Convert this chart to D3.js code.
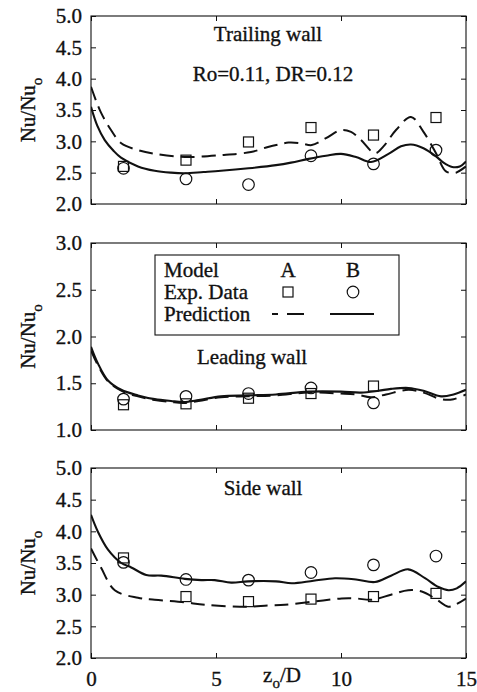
<!DOCTYPE html>
<html><head><meta charset="utf-8">
<script src="https://cdn.jsdelivr.net/npm/d3@7/dist/d3.min.js"></script>
<style>
html,body{margin:0;padding:0;background:#fff;}
svg text{font-family:"Liberation Serif","Times New Roman",Times,"DejaVu Serif",serif !important;fill:#111;stroke:#111;stroke-width:0.35px;}
</style></head>
<body><svg id="c" width="477" height="692"></svg>
<script>
// ---------- data ----------
const xTicks = [0, 5, 10, 15];
const expX6 = [1.3, 3.8, 6.3, 8.8, 11.3, 13.8];
const expX5 = [1.3, 3.8, 6.3, 8.8, 11.3];

// Trailing wall
const trailTicks = [2.0, 2.5, 3.0, 3.5, 4.0, 4.5, 5.0];
const trailExpA = [2.60, 2.70, 2.99, 3.22, 3.10, 3.38];
const trailExpB = [2.57, 2.40, 2.31, 2.77, 2.64, 2.86];
const trailPredAx = [0, 0.2, 0.41, 0.8, 1.21, 1.88, 2.55, 3.75, 5.2, 6.4, 7.08, 7.5, 7.9, 8.4, 8.83, 9.4, 10.0, 10.4, 10.8, 11.36, 11.7, 12.2, 12.8, 13.3, 13.8, 14.2, 14.6, 15];
const trailPredAy = [3.87, 3.65, 3.45, 3.18, 2.97, 2.86, 2.80, 2.75, 2.78, 2.83, 2.91, 2.95, 2.98, 2.97, 2.94, 3.05, 3.18, 3.15, 3.02, 2.81, 2.92, 3.18, 3.39, 3.15, 2.81, 2.52, 2.50, 2.60];
const trailPredBx = [0, 0.25, 0.55, 0.9, 1.2, 1.88, 2.55, 3.2, 3.75, 4.5, 5.2, 6.3, 7.4, 8.0, 8.7, 9.4, 10.0, 10.6, 11.2, 11.9, 12.4, 12.8, 13.3, 13.8, 14.1, 14.45, 14.75, 15];
const trailPredBy = [3.55, 3.25, 3.02, 2.85, 2.74, 2.60, 2.53, 2.50, 2.49, 2.51, 2.53, 2.57, 2.62, 2.66, 2.72, 2.77, 2.80, 2.75, 2.67, 2.80, 2.92, 2.95, 2.89, 2.76, 2.66, 2.59, 2.60, 2.68];

// Leading wall
const leadTicks = [1.0, 1.5, 2.0, 2.5, 3.0];
const leadExpA = [1.27, 1.28, 1.34, 1.39, 1.47];
const leadExpB = [1.33, 1.36, 1.39, 1.45, 1.29];
const leadPredAx = [0, 0.28, 0.68, 1.21, 1.88, 2.55, 3.2, 3.7, 4.3, 5.2, 6.3, 7.4, 8.7, 10.0, 10.6, 11.2, 11.8, 12.7, 13.3, 14.0, 14.5, 15];
const leadPredAy = [1.85, 1.69, 1.52, 1.42, 1.36, 1.32, 1.30, 1.29, 1.31, 1.35, 1.36, 1.37, 1.40, 1.39, 1.38, 1.35, 1.38, 1.43, 1.40, 1.33, 1.33, 1.38];
const leadPredBx = [0, 0.28, 0.68, 1.21, 1.88, 2.55, 3.2, 3.7, 4.3, 5.2, 6.3, 7.4, 8.7, 10.0, 10.8, 11.5, 12.0, 12.7, 13.3, 14.0, 14.5, 15];
const leadPredBy = [1.89, 1.71, 1.53, 1.43, 1.37, 1.33, 1.31, 1.30, 1.32, 1.36, 1.37, 1.38, 1.41, 1.41, 1.40, 1.42, 1.44, 1.45, 1.42, 1.36, 1.38, 1.43];

// Side wall
const sideTicks = [2.0, 2.5, 3.0, 3.5, 4.0, 4.5, 5.0];
const sideExpA = [3.58, 2.97, 2.89, 2.93, 2.97, 3.02];
const sideExpB = [3.51, 3.24, 3.23, 3.35, 3.47, 3.61];
const sidePredAx = [0, 0.41, 0.95, 1.88, 2.55, 3.75, 4.55, 6.28, 7.08, 7.76, 8.9, 10.03, 10.6, 11.23, 12.0, 12.69, 13.23, 13.76, 14.29, 14.56, 15];
const sidePredAy = [3.73, 3.42, 3.07, 2.95, 2.92, 2.88, 2.84, 2.81, 2.83, 2.84, 2.89, 2.94, 2.94, 2.92, 3.00, 3.07, 3.05, 2.94, 2.81, 2.84, 2.94];
const sidePredBx = [0, 0.28, 0.68, 1.21, 1.61, 2.21, 2.81, 3.75, 4.41, 4.95, 5.61, 6.28, 7.4, 8.03, 8.9, 9.76, 10.6, 11.36, 12.0, 12.69, 13.36, 13.9, 14.3, 14.63, 15];
const sidePredBy = [4.26, 3.99, 3.71, 3.50, 3.43, 3.31, 3.30, 3.25, 3.23, 3.23, 3.19, 3.21, 3.21, 3.18, 3.22, 3.26, 3.24, 3.20, 3.30, 3.40, 3.26, 3.12, 3.07, 3.10, 3.21];

const legendModels = ["A", "B"];

// ---------- drawing ----------
const svg = d3.select("#c");
const FONT = "'Liberation Serif', 'Times New Roman', Times, 'DejaVu Serif', serif";
const X0 = 91, X1 = 466;
const x = d3.scaleLinear().domain([0, 15]).range([X0, X1]);
const INK = "#111";
const DASH = "14,7";

const zip = (a, b) => a.map((v, i) => [v, b[i]]);

const panels = [
  {top: 16, bot: 204, dom: [2, 5], ticks: trailTicks, title: "Trailing wall", tx: 268, ty: 41,
   expX: expX6, A: trailExpA, B: trailExpB, pA: zip(trailPredAx, trailPredAy), pB: zip(trailPredBx, trailPredBy)},
  {top: 243, bot: 430, dom: [1, 3], ticks: leadTicks, title: "Leading wall", tx: 252, ty: 364,
   expX: expX5, A: leadExpA, B: leadExpB, pA: zip(leadPredAx, leadPredAy), pB: zip(leadPredBx, leadPredBy)},
  {top: 468, bot: 658, dom: [2, 5], ticks: sideTicks, title: "Side wall", tx: 263, ty: 495,
   expX: expX6, A: sideExpA, B: sideExpB, pA: zip(sidePredAx, sidePredAy), pB: zip(sidePredBx, sidePredBy)}
];

panels.forEach((p, pi) => {
  const y = d3.scaleLinear().domain(p.dom).range([p.bot, p.top]);
  const g = svg.append("g");

  const ay = g.append("g").attr("transform", `translate(${X0},0)`)
    .call(d3.axisLeft(y).tickValues(p.ticks).tickFormat(d3.format(".1f")).tickSize(-5).tickPadding(9));
  ay.attr("font-family", FONT).attr("font-size", 21);
  ay.select(".domain").remove();
  ay.selectAll("line").attr("stroke", INK).attr("stroke-width", 1);
  ay.selectAll("text").attr("fill", INK);

  const ayr = g.append("g").attr("transform", `translate(${X1},0)`)
    .call(d3.axisRight(y).tickValues(p.ticks).tickFormat("").tickSize(-5));
  ayr.select(".domain").remove();
  ayr.selectAll("line").attr("stroke", INK);

  const axb = g.append("g").attr("transform", `translate(0,${p.bot})`)
    .call(d3.axisBottom(x).tickValues(xTicks).tickSize(-5).tickPadding(pi === 2 ? 13 : 0)
      .tickFormat(pi === 2 ? d3.format("d") : ""));
  axb.attr("font-family", FONT).attr("font-size", 21);
  axb.select(".domain").remove();
  axb.selectAll("line").attr("stroke", INK);
  axb.selectAll("text").attr("fill", INK);
  const axt = g.append("g").attr("transform", `translate(0,${p.top})`)
    .call(d3.axisTop(x).tickValues(xTicks).tickSize(-5).tickFormat(""));
  axt.select(".domain").remove();
  axt.selectAll("line").attr("stroke", INK);

  g.append("rect").attr("x", X0).attr("y", p.top).attr("width", X1 - X0).attr("height", p.bot - p.top)
    .attr("fill", "none").attr("stroke", INK).attr("stroke-width", 1.1);

  const yl = g.append("text")
    .attr("transform", `translate(35,${(p.top + p.bot) / 2}) rotate(-90)`)
    .attr("text-anchor", "middle").attr("font-size", 21).attr("font-family", FONT);
  yl.append("tspan").text("Nu/Nu");
  yl.append("tspan").attr("font-size", 15).attr("dy", 7).text("o");

  g.append("text").attr("x", p.tx).attr("y", p.ty).attr("text-anchor", "middle")
    .attr("font-size", 21).attr("font-family", FONT).text(p.title);

  const line = d3.line().x(d => x(d[0])).y(d => y(d[1])).curve(d3.curveCatmullRom.alpha(0.5));
  const clipId = "clip" + pi;
  g.append("clipPath").attr("id", clipId).append("rect")
    .attr("x", X0).attr("y", p.top).attr("width", X1 - X0).attr("height", p.bot - p.top);
  g.append("path").datum(p.pA).attr("d", line).attr("fill", "none").attr("stroke", INK)
    .attr("stroke-width", 2).attr("stroke-dasharray", DASH).attr("clip-path", `url(#${clipId})`);
  g.append("path").datum(p.pB).attr("d", line).attr("fill", "none").attr("stroke", INK)
    .attr("stroke-width", 2.1).attr("clip-path", `url(#${clipId})`);

  g.selectAll("rect.sq").data(zip(p.expX, p.A)).join("rect").attr("class", "sq")
    .attr("x", d => x(d[0]) - 5).attr("y", d => y(d[1]) - 5).attr("width", 10).attr("height", 10)
    .attr("fill", "none").attr("stroke", INK).attr("stroke-width", 1.2);
  g.selectAll("circle.ci").data(zip(p.expX, p.B)).join("circle").attr("class", "ci")
    .attr("cx", d => x(d[0])).attr("cy", d => y(d[1])).attr("r", 5.8)
    .attr("fill", "none").attr("stroke", INK).attr("stroke-width", 1.2);
});

svg.append("text").attr("x", 273).attr("y", 81).attr("text-anchor", "middle").attr("font-size", 21)
  .attr("font-family", FONT).text("Ro=0.11, DR=0.12");

const xl = svg.append("text").attr("x", 282).attr("y", 682).attr("text-anchor", "middle")
  .attr("font-size", 21).attr("font-family", FONT);
xl.append("tspan").text("z");
xl.append("tspan").attr("font-size", 15).attr("dy", 6).text("o");
xl.append("tspan").attr("dy", -6).text("/D");

const lg = svg.append("g").attr("font-family", FONT);
lg.append("rect").attr("x", 155).attr("y", 255).attr("width", 244).attr("height", 80)
  .attr("fill", "#fff").attr("stroke", INK).attr("stroke-width", 1.1);
const rowY = [277, 299, 321];
["Model", "Exp. Data", "Prediction"].forEach((t, i) => {
  lg.append("text").attr("x", 164).attr("y", rowY[i]).attr("font-size", 21).text(t);
});
const colX = [288, 353];
legendModels.forEach((m, i) => {
  lg.append("text").attr("x", colX[i]).attr("y", rowY[0]).attr("text-anchor", "middle").attr("font-size", 21).text(m);
});
lg.append("rect").attr("x", colX[0] - 5).attr("y", rowY[1] - 12).attr("width", 10).attr("height", 10)
  .attr("fill", "none").attr("stroke", INK).attr("stroke-width", 1.2);
lg.append("circle").attr("cx", colX[1]).attr("cy", rowY[1] - 7).attr("r", 5.8)
  .attr("fill", "none").attr("stroke", INK).attr("stroke-width", 1.2);
lg.append("line").attr("x1", 272).attr("x2", 304).attr("y1", rowY[2] - 7).attr("y2", rowY[2] - 7)
  .attr("stroke", INK).attr("stroke-width", 2).attr("stroke-dasharray", "6,9,17");
lg.append("line").attr("x1", 330).attr("x2", 374).attr("y1", rowY[2] - 7).attr("y2", rowY[2] - 7)
  .attr("stroke", INK).attr("stroke-width", 2.1);
</script></body></html>
